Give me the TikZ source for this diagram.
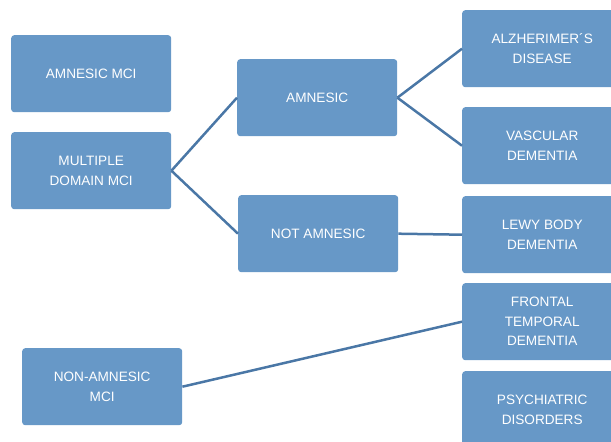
\documentclass[tikz,border=0pt]{standalone}
\usepackage{fontspec}
\setmainfont{Liberation Sans}
\definecolor{boxfill}{RGB}{103,152,199}
\definecolor{linkcol}{RGB}{74,119,166}
\begin{document}
\begin{tikzpicture}[x=1pt,y=-1pt,
  box/.style={draw=none,fill=boxfill,rounded corners=3pt,minimum width=160pt,minimum height=77pt,
    text=white,align=center,font=\fontsize{13.6}{19.5}\selectfont,inner sep=0pt,anchor=north west},
  link/.style={draw=linkcol,line width=2.5pt}]
\useasboundingbox (0,0) rectangle (611,442);
\clip (0,0) rectangle (611,442);
\node[box] (amci) at (11,35) {AMNESIC MCI};
\node[box] (mdmci) at (11,132) {MULTIPLE\\DOMAIN MCI};
\node[box] (amn) at (237,59) {AMNESIC};
\node[box] (namn) at (238,195) {NOT AMNESIC};
\node[box] (alz) at (462,10) {ALZHERIMER´S\\DISEASE};
\node[box] (vasc) at (462,107) {VASCULAR\\DEMENTIA};
\node[box] (lewy) at (462,196) {LEWY BODY\\DEMENTIA};
\node[box] (ftd) at (462,283) {FRONTAL\\TEMPORAL\\DEMENTIA};
\node[box] (psy) at (462,371) {PSYCHIATRIC\\DISORDERS};
\node[box] (nonam) at (22,348) {NON-AMNESIC\\MCI};
\draw[link] (mdmci.east) -- (amn.west);
\draw[link] (mdmci.east) -- (namn.west);
\draw[link] (amn.east) -- (alz.west);
\draw[link] (amn.east) -- (vasc.west);
\draw[link] (namn.east) -- (lewy.west);
\draw[link] (nonam.east) -- (ftd.west);
\end{tikzpicture}
\end{document}
